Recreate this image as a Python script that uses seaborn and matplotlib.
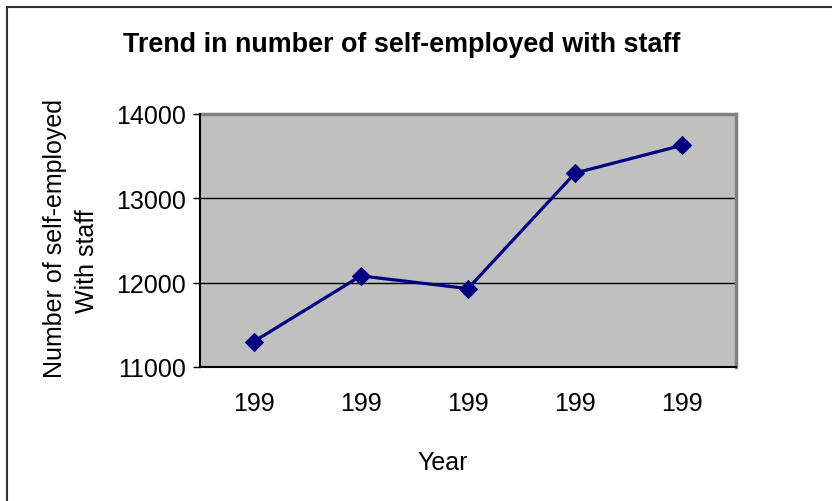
import pandas as pd
import numpy as np
import matplotlib.pyplot as plt
import seaborn as sns
from matplotlib.patches import Rectangle

# values
year_labels = ["199", "199", "199", "199", "199"]
self_employed_with_staff = [11300, 12080, 11930, 13300, 13630]
y_ticks = [11000, 12000, 13000, 14000]

sns.set_style("white")
plt.rcParams['font.family'] = ['Liberation Sans', 'DejaVu Sans']
plt.rcParams['text.color'] = 'black'
plt.rcParams['xtick.color'] = 'black'
plt.rcParams['ytick.color'] = 'black'
plt.rcParams['axes.labelcolor'] = 'black'

W, H = 832, 502
fig = plt.figure(figsize=(W / 100, H / 100), dpi=100)

# outer chart frame (right and bottom edges fall outside the image)
fig.patches.append(Rectangle((7 / W, -0.1), 1.2, 1 - 8 / H + 0.1, transform=fig.transFigure,
                             fill=False, edgecolor='#333333', linewidth=1.5))

ax = fig.add_axes([200 / W, 1 - 368 / H, 536 / W, 253 / H])
ax.set_facecolor('#C0C0C0')

df = pd.DataFrame({'pos': range(len(self_employed_with_staff)),
                   'count': self_employed_with_staff})
sns.lineplot(data=df, x='pos', y='count', ax=ax, color='#000080', linewidth=2.3,
             marker='D', markersize=9, markeredgecolor='#000080', zorder=3)

ax.set_xlim(-0.5, len(year_labels) - 0.5)
ax.set_ylim(y_ticks[0], y_ticks[-1])
ax.set_yticks(y_ticks)
ax.set_xticks(range(len(year_labels)))
ax.set_xticklabels(year_labels)
ax.set_xticks(np.arange(-0.5, len(year_labels), 1), minor=True)

ax.tick_params(axis='x', which='major', length=0, pad=17, labelsize=18)
ax.tick_params(axis='x', which='minor', length=5, width=1, direction='out', color='black')
ax.tick_params(axis='y', which='major', length=5, width=1, direction='out', color='black',
               pad=5, labelsize=18, left=True)
ax.grid(axis='y', color='black', linewidth=1)
ax.set_axisbelow(True)

for side in ['top', 'right']:
    ax.spines[side].set_color('#808080')
    ax.spines[side].set_linewidth(2.5)
for side in ['left', 'bottom']:
    ax.spines[side].set_color('black')
    ax.spines[side].set_linewidth(1.5)
    ax.spines[side].set_zorder(4)

ax.set_xlabel('Year', fontsize=18)
ax.xaxis.set_label_coords((443 - 200) / 536, -(463 - 368) / 253)
ax.xaxis.label.set_va('center')
ax.set_ylabel('')

# two-line y title, lines centred as in the original
fig.text(55 / W, 1 - 238 / H, 'Number of self-employed', rotation=90,
         ha='center', va='center', fontsize=18)
fig.text(87 / W, 1 - 261 / H, 'With staff', rotation=90,
         ha='center', va='center', fontsize=18)

fig.text(402 / W, 1 - 45 / H, 'Trend in number of self-employed with staff',
         ha='center', va='center', fontsize=19.4, fontweight='bold')

plt.savefig('out.png', dpi=100)
